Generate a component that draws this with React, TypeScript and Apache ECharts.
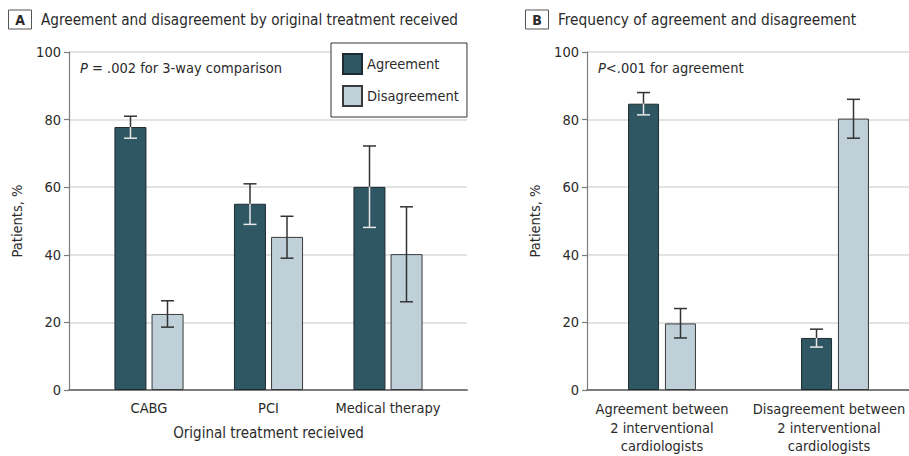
import React, { useEffect, useRef } from "react";
import * as echarts from "echarts";

const catsA = ["CABG", "PCI", "Medical therapy"];
const agreeA = [77.8, 55.1, 60.1];
const agreeAErr = [[74.5, 81.0], [49.0, 61.0], [48.1, 72.2]];
const disagreeA = [22.5, 45.3, 40.2];
const disagreeAErr = [[18.6, 26.4], [39.0, 51.4], [26.1, 54.2]];

const catsB = [
  "Agreement between\n2 interventional\ncardiologists",
  "Disagreement between\n2 interventional\ncardiologists",
];
const agreeB = [84.7, 15.4];
const agreeBErr = [[81.4, 88.0], [12.7, 18.0]];
const disagreeB = [19.7, 80.3];
const disagreeBErr = [[15.4, 24.1], [74.5, 86.0]];

const yTicks = [0, 20, 40, 60, 80, 100];

const FONT = "'DejaVu Sans Condensed', 'DejaVu Sans', sans-serif";
const DARK = "#2f5663";
const LIGHT = "#bfd0d9";
const TXT = "#2b2b2b";
const ERR_DARK = "#333333";
const ERR_LIGHT = "#e8e8e8";

function errSeries(name: string, vals: number[], errs: number[][], xi: number, offset: number, darkBar: boolean) {
  return {
    type: "custom",
    name,
    xAxisIndex: xi,
    yAxisIndex: xi,
    z: 5,
    silent: true,
    data: vals.map((v, i) => [i, errs[i][0], errs[i][1], v]),
    encode: { x: 0, y: [1, 2] },
    renderItem: (params: any, api: any) => {
      const x = api.value(0);
      const lo = api.value(1);
      const hi = api.value(2);
      const top = api.value(3);
      const pLo = api.coord([x, lo]);
      const pHi = api.coord([x, hi]);
      const pTop = api.coord([x, top]);
      const cx = pLo[0] + offset;
      const cap = 6.5;
      const children: any[] = [];
      const seg = (y1: number, y2: number, c: string) => ({
        type: "line",
        shape: { x1: cx, y1, x2: cx, y2 },
        style: { stroke: c, lineWidth: 1.5 },
      });
      const capL = (y: number, c: string) => ({
        type: "line",
        shape: { x1: cx - cap, y1: y, x2: cx + cap, y2: y },
        style: { stroke: c, lineWidth: 1.5 },
      });
      if (darkBar) {
        if (hi > top) {
          children.push(seg(pHi[1], pTop[1], ERR_DARK));
          children.push(seg(pTop[1], pLo[1], ERR_LIGHT));
        } else {
          children.push(seg(pHi[1], pLo[1], ERR_LIGHT));
        }
        children.push(capL(pHi[1], hi > top ? ERR_DARK : ERR_LIGHT));
        children.push(capL(pLo[1], lo > top ? ERR_DARK : ERR_LIGHT));
      } else {
        children.push(seg(pHi[1], pLo[1], ERR_DARK));
        children.push(capL(pHi[1], ERR_DARK));
        children.push(capL(pLo[1], ERR_DARK));
      }
      return { type: "group", children };
    },
  };
}

export default function App() {
  const ref = useRef<HTMLDivElement>(null);
  useEffect(() => {
    if (!ref.current) return;
    const chart = echarts.init(ref.current, undefined, { renderer: "svg" });

    const top = 52;
    const height = 338;

    const frameX = (gi: number) => ({
      type: "value",
      gridIndex: gi,
      min: 0,
      max: 1,
      axisLine: { show: true, lineStyle: { color: "#7d7d7d", width: 2 } },
      axisTick: { show: false },
      axisLabel: { show: false },
      splitLine: { show: false },
    });
    const frameY = (gi: number, nameGap: number) => ({
      type: "value",
      gridIndex: gi,
      min: 0,
      max: 100,
      interval: 20,
      name: "Patients, %",
      nameLocation: "middle",
      nameRotate: 90,
      nameGap,
      nameTextStyle: { fontFamily: FONT, fontSize: 14.5, color: TXT },
      axisLine: { show: true, lineStyle: { color: "#7d7d7d", width: 1.2 } },
      axisTick: { show: true, length: 5, lineStyle: { color: "#7d7d7d", width: 1.2 } },
      axisLabel: {
        fontFamily: FONT,
        fontSize: 14.5,
        color: TXT,
        margin: 8,
        formatter: (v: number) => (yTicks.includes(v) ? String(v) : ""),
      },
      splitLine: { show: true, lineStyle: { color: "#dadada", width: 1.5 } },
    });
    const barY = (gi: number) => ({
      type: "value",
      gridIndex: gi,
      min: 0,
      max: 100,
      interval: 20,
      show: false,
      splitLine: { show: false },
    });

    const option: any = {
      animation: false,
      textStyle: { fontFamily: FONT },
      grid: [
        { left: 69, top, width: 398, height, outerBoundsMode: "none", containLabel: false },
        { left: 89.25, top, width: 358.5, height, outerBoundsMode: "none", containLabel: false },
        { left: 587, top, width: 322, height, outerBoundsMode: "none", containLabel: false },
        { left: 575.5, top, width: 346, height, outerBoundsMode: "none", containLabel: false },
      ],
      xAxis: [
        frameX(0),
        {
          type: "category",
          gridIndex: 1,
          data: catsA,
          axisLine: { show: false },
          axisTick: { show: false },
          axisLabel: { interval: 0, fontFamily: FONT, fontSize: 14.5, color: TXT, margin: 10 },
          name: "Original treatment recieived",
          nameLocation: "middle",
          nameGap: 35,
          nameTextStyle: { fontFamily: FONT, fontSize: 15, color: TXT },
        },
        frameX(2),
        {
          type: "category",
          gridIndex: 3,
          data: catsB.map((c, i) =>
            i === catsB.length - 1 ? { value: c, textStyle: { padding: [0, 12, 0, 0] } } : c
          ),
          axisLine: { show: false },
          axisTick: { show: false },
          axisLabel: {
            interval: 0,
            fontFamily: FONT,
            fontSize: 14.5,
            color: TXT,
            margin: 10,
            lineHeight: 18.5,
          },
        },
      ],
      yAxis: [frameY(0, 45), barY(1), frameY(2, 45), barY(3)],
      legend: {
        data: ["Agreement", "Disagreement"],
        orient: "vertical",
        left: 331,
        top: 43,
        padding: [10, 8, 10, 11],
        itemWidth: 19,
        itemHeight: 20,
        itemGap: 10,
        icon: "rect",
        borderColor: "#333",
        borderWidth: 1,
        backgroundColor: "#fff",
        textStyle: { fontFamily: FONT, fontSize: 14.5, color: TXT },
      },
      series: [
        {
          type: "bar",
          name: "Agreement",
          xAxisIndex: 1,
          yAxisIndex: 1,
          data: agreeA,
          barWidth: 32,
          barGap: "16%",
          itemStyle: { color: DARK, borderColor: "#1f2a30", borderWidth: 1 },
        },
        {
          type: "bar",
          name: "Disagreement",
          xAxisIndex: 1,
          yAxisIndex: 1,
          data: disagreeA,
          barWidth: 32,
          barGap: "16%",
          itemStyle: { color: LIGHT, borderColor: "#3a3a3a", borderWidth: 1 },
        },
        errSeries("errAgreeA", agreeA, agreeAErr, 1, -18.5, true),
        errSeries("errDisagreeA", disagreeA, disagreeAErr, 1, 18.5, false),
        {
          type: "bar",
          name: "Agreement",
          xAxisIndex: 3,
          yAxisIndex: 3,
          data: agreeB,
          barWidth: 31,
          barGap: "19%",
          itemStyle: { color: DARK, borderColor: "#1f2a30", borderWidth: 1 },
        },
        {
          type: "bar",
          name: "Disagreement",
          xAxisIndex: 3,
          yAxisIndex: 3,
          data: disagreeB,
          barWidth: 31,
          barGap: "19%",
          itemStyle: { color: LIGHT, borderColor: "#3a3a3a", borderWidth: 1 },
        },
        errSeries("errAgreeB", agreeB, agreeBErr, 3, -18.5, true),
        errSeries("errDisagreeB", disagreeB, disagreeBErr, 3, 18.5, false),
      ],
      graphic: [
        { type: "rect", shape: { x: 8.5, y: 10, width: 23, height: 19 }, style: { fill: "#fff", stroke: "#555", lineWidth: 1 } },
        { type: "text", x: 20, y: 20, style: { text: "A", fontFamily: FONT, fontSize: 14, fontWeight: "bold", fill: TXT, align: "center", verticalAlign: "middle" } },
        { type: "text", x: 41, y: 20, style: { text: "Agreement and disagreement by original treatment received", fontFamily: FONT, fontSize: 15.2, fill: TXT, verticalAlign: "middle" } },
        { type: "rect", shape: { x: 525.5, y: 10, width: 23, height: 19 }, style: { fill: "#fff", stroke: "#555", lineWidth: 1 } },
        { type: "text", x: 537, y: 20, style: { text: "B", fontFamily: FONT, fontSize: 14, fontWeight: "bold", fill: TXT, align: "center", verticalAlign: "middle" } },
        { type: "text", x: 558, y: 20, style: { text: "Frequency of agreement and disagreement", fontFamily: FONT, fontSize: 15.3, fill: TXT, verticalAlign: "middle" } },
        {
          type: "text",
          x: 80,
          y: 68,
          style: {
            text: "{i|P} = .002 for 3-way comparison",
            fontFamily: FONT,
            fontSize: 14.5,
            fill: TXT,
            verticalAlign: "middle",
            rich: { i: { fontStyle: "italic", fontFamily: FONT, fontSize: 14.5, fill: TXT } },
          },
        },
        {
          type: "text",
          x: 598,
          y: 68,
          style: {
            text: "{i|P}<.001 for agreement",
            fontFamily: FONT,
            fontSize: 14.5,
            fill: TXT,
            verticalAlign: "middle",
            rich: { i: { fontStyle: "italic", fontFamily: FONT, fontSize: 14.5, fill: TXT } },
          },
        },
      ],
    };
    chart.setOption(option);
    return () => chart.dispose();
  }, []);
  return (
    <div
      ref={ref}
      style={{ position: "absolute", left: 0, top: 0, width: 909, height: 456, background: "#fff" }}
    />
  );
}
